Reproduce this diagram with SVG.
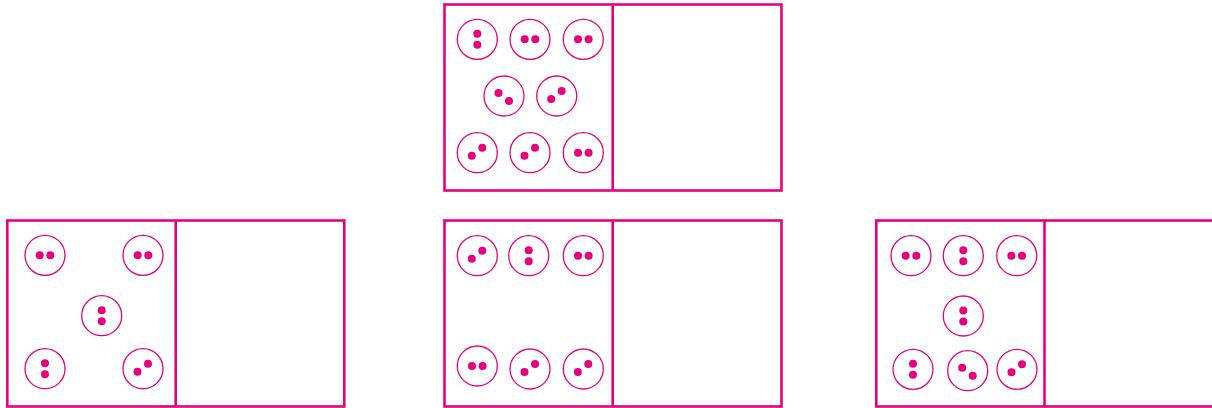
<svg xmlns="http://www.w3.org/2000/svg" xmlns:xlink="http://www.w3.org/1999/xlink" width="1212" height="408" viewBox="0 0 1212 408">
<style>
.box{fill:none;stroke:#e6007e;stroke-width:2.6}
.c{fill:#fff;stroke:#e6007e;stroke-width:1.3}
.d{fill:#e6007e}
</style>
<defs>
<g id="H"><circle class="c" r="20"/><circle class="d" cx="-5.3" cy="0" r="4"/><circle class="d" cx="5.3" cy="0" r="4"/></g>
<g id="V"><circle class="c" r="20"/><circle class="d" cx="0" cy="-5.5" r="4"/><circle class="d" cx="0" cy="5.5" r="4"/></g>
<g id="D"><circle class="c" r="20"/><circle class="d" cx="-5.5" cy="3" r="4"/><circle class="d" cx="5" cy="-5" r="4"/></g>
<g id="U"><circle class="c" r="20"/><circle class="d" cx="-5.5" cy="-3" r="4"/><circle class="d" cx="5" cy="5" r="4"/></g>
</defs>
<rect width="1212" height="408" fill="#fff"/>
<g id="box-top">
<rect class="box" x="444.5" y="4.5" width="337" height="186"/>
<line class="box" x1="612.7" y1="4.5" x2="612.7" y2="190.5"/>
<use href="#V" x="477.3" y="39.3"/>
<use href="#H" x="530" y="39.3"/>
<use href="#H" x="583.3" y="39.3"/>
<use href="#U" x="504" y="96"/>
<use href="#D" x="556.7" y="96"/>
<use href="#D" x="477.3" y="152.7"/>
<use href="#D" x="530" y="152.7"/>
<use href="#H" x="583.3" y="152.7"/>
</g>
<g id="box-left">
<rect class="box" x="7.3" y="220.5" width="337" height="186"/>
<line class="box" x1="175.7" y1="220.5" x2="175.7" y2="406.5"/>
<use href="#H" x="45" y="255.3"/>
<use href="#H" x="143" y="255.3"/>
<use href="#V" x="101.7" y="315.7"/>
<use href="#V" x="45" y="368.7"/>
<use href="#D" x="143" y="368.7"/>
</g>
<g id="box-middle">
<rect class="box" x="444.5" y="220.5" width="337" height="186"/>
<line class="box" x1="612.7" y1="220.5" x2="612.7" y2="406.5"/>
<use href="#D" x="477.3" y="255.7"/>
<use href="#V" x="528.7" y="255.7"/>
<use href="#H" x="583.3" y="255.7"/>
<use href="#H" x="477.3" y="366"/>
<use href="#D" x="530" y="369"/>
<use href="#D" x="583.3" y="369"/>
</g>
<g id="box-right">
<rect class="box" x="876.3" y="220.5" width="337" height="186"/>
<line class="box" x1="1044.5" y1="220.5" x2="1044.5" y2="406.5"/>
<use href="#H" x="911" y="255.7"/>
<use href="#V" x="963.3" y="255.7"/>
<use href="#H" x="1016.7" y="255.7"/>
<use href="#V" x="963.3" y="316"/>
<use href="#V" x="913" y="369.3"/>
<use href="#U" x="967.7" y="370.7"/>
<use href="#D" x="1017" y="369.3"/>
</g>
<g id="connectors"></g>
</svg>
